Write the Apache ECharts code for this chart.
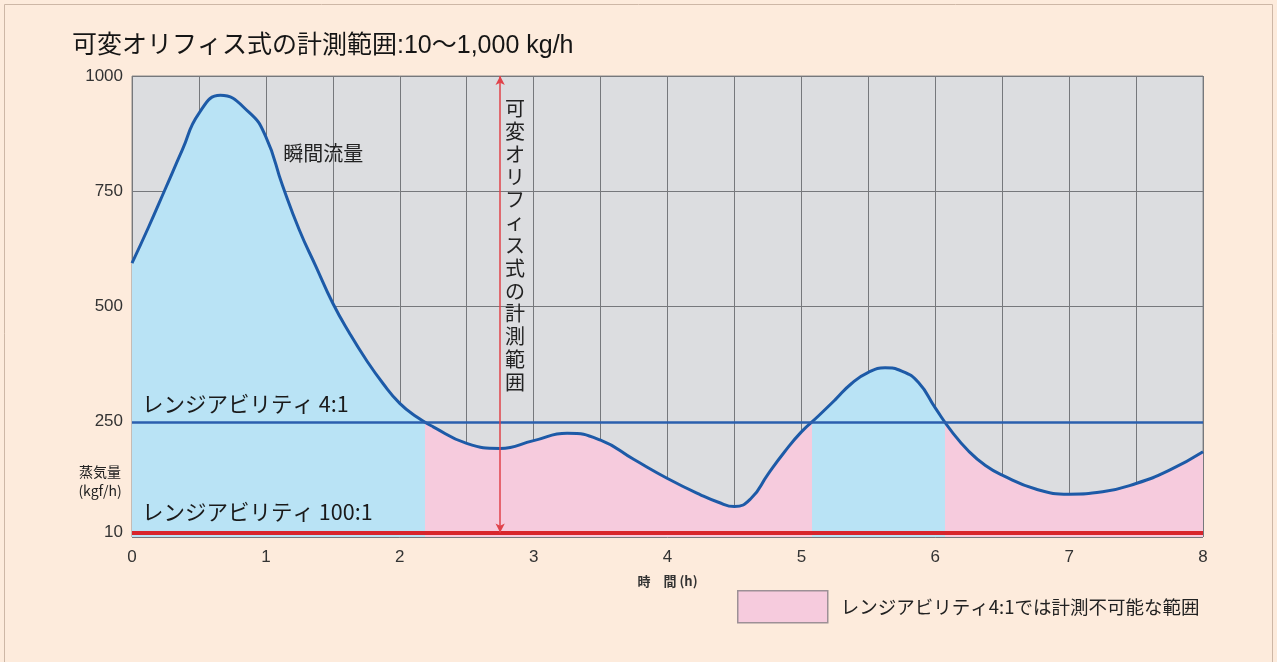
<!DOCTYPE html>
<html>
<head>
<meta charset="utf-8">
<title>可変オリフィス式の計測範囲</title>
<script src="https://cdn.jsdelivr.net/npm/echarts@6/dist/echarts.min.js"></script>
<style>
  html, body { margin: 0; padding: 0; background: #fdebdc; }
  #main { width: 1277px; height: 662px; }
</style>
</head>
<body>
<div id="main"></div>
<script>
// Elapsed time (h) and instantaneous steam flow (kg/h)
const hours = [0, 0.125, 0.25, 0.375, 0.5, 0.66, 0.875, 1.0, 1.125, 1.25, 1.375, 1.5, 1.625, 1.75, 1.875, 2.0, 2.125, 2.25, 2.5, 2.75, 3.0, 3.25, 3.5, 3.75, 4.0, 4.25, 4.375, 4.5, 4.625, 4.75, 4.875, 5.0, 5.125, 5.25, 5.375, 5.5, 5.625, 5.75, 5.875, 6.0, 6.125, 6.25, 6.375, 6.5, 6.75, 7.0, 7.25, 7.5, 7.75, 8.0];
const flow  = [594, 673, 756, 839, 919, 958, 921, 868, 762, 666, 586, 507, 442, 384, 333, 290, 261, 239, 203, 192, 209, 225, 210, 168, 127, 91, 76, 66, 84, 136, 185, 228, 262, 297, 333, 357, 367, 360, 335, 280, 228, 186, 155, 134, 104, 93, 98, 116, 145, 185];

// Axis ticks
const yTickValues = [10, 250, 500, 750, 1000];
const xTickValues = [0, 1, 2, 3, 4, 5, 6, 7, 8];

// Measurable lower limits for each rangeability
const limit100to1 = 10;
const limit4to1 = 250;

// Time spans where the flow stays above the 4:1 limit
const measurableSpans = [[0, 2.19], [5.08, 6.07]];

// Where the double arrow for the variable-orifice range is drawn
const arrowHour = 2.75;

const legendText = 'レンジアビリティ4:1では計測不可能な範囲';

const BLUE_FILL = '#b9e3f5';
const PINK_FILL = '#f6cbdd';
const CURVE = '#1d5aa7';
const JP = "'Noto Sans CJK JP', sans-serif";
const NUM = "'Liberation Sans', 'Noto Sans CJK JP', sans-serif";

const xMin = xTickValues[0], xMax = xTickValues[xTickValues.length - 1];

// Horizontal hard-stop gradient: blue where measurable, pink elsewhere
function spanGradient() {
  const stops = [];
  let pos = xMin;
  const span = xMax - xMin;
  measurableSpans.forEach(([a, b]) => {
    if (a > pos) {
      stops.push({ offset: (pos - xMin) / span, color: PINK_FILL });
      stops.push({ offset: (a - xMin) / span, color: PINK_FILL });
    }
    stops.push({ offset: (a - xMin) / span, color: BLUE_FILL });
    stops.push({ offset: (b - xMin) / span, color: BLUE_FILL });
    pos = b;
  });
  if (pos < xMax) {
    stops.push({ offset: (pos - xMin) / span, color: PINK_FILL });
    stops.push({ offset: 1, color: PINK_FILL });
  }
  return new echarts.graphic.LinearGradient(0, 0, 1, 0, stops);
}

const chart = echarts.init(document.getElementById('main'), null, { renderer: 'canvas' });

const option = {
  backgroundColor: '#fdebdc',
  animation: false,
  title: {
    text: '可変オリフィス式の計測範囲:10〜1,000 kg/h',
    left: 67,
    top: 29,
    textStyle: { fontFamily: "'Liberation Sans', 'Noto Sans CJK JP', sans-serif", fontSize: 25, fontWeight: 'normal', color: '#151515' }
  },
  grid: {
    left: 132, right: 74, top: 76, bottom: 125,
    show: true, backgroundColor: '#dcdde0', borderColor: '#8c8c8e', borderWidth: 1
  },
  legend: {
    left: 737, top: 590, padding: 0,
    itemWidth: 90, itemHeight: 32,
    selectedMode: false,
    icon: 'rect',
    data: [{ name: legendText, itemStyle: { color: PINK_FILL, borderColor: '#9d9096', borderWidth: 1.5 } }],
    textStyle: { fontFamily: JP, fontSize: 18.5, color: '#222', padding: [0, 0, 0, 8] }
  },
  xAxis: {
    type: 'value', min: xMin, max: xMax, interval: 0.5,
    name: '時　間 (h)', nameLocation: 'middle', nameGap: 38,
    nameTextStyle: { fontFamily: JP, fontSize: 13, fontWeight: 'bold', color: '#333' },
    axisLine: { show: false }, axisTick: { show: false },
    axisLabel: {
      margin: 12, fontFamily: NUM, fontSize: 17, color: '#333',
      formatter: v => (xTickValues.indexOf(v) >= 0 ? String(v) : '')
    },
    splitLine: { show: true, lineStyle: { color: '#76787c', width: 1 } }
  },
  yAxis: {
    type: 'value', min: 0, max: 1000, interval: 250,
    axisLine: { show: false }, axisTick: { show: false },
    axisLabel: {
      customValues: yTickValues, margin: 9, fontFamily: NUM, fontSize: 17, color: '#333',
      formatter: v => String(v)
    },
    splitLine: { show: true, lineStyle: { color: '#76787c', width: 1 } }
  },
  series: [
    {
      name: '瞬間流量',
      type: 'line',
      data: hours.map((h, i) => [h, flow[i]]),
      smooth: 0.5,
      showSymbol: false,
      lineStyle: { color: CURVE, width: 3 },
      areaStyle: { color: spanGradient(), opacity: 1, origin: 'start' },
      z: 3,
      markLine: {
        silent: true,
        symbol: 'none',
        label: { show: false },
        data: [
          { yAxis: limit4to1, lineStyle: { color: '#2b5fae', width: 2.5, type: 'solid' } },
          { yAxis: limit100to1, lineStyle: { color: '#d8252c', width: 4, type: 'solid' } }
        ]
      }
    },
    {
      name: 'range-arrow',
      type: 'line',
      data: [],
      z: 4,
      markLine: {
        silent: true,
        symbol: ['arrow', 'arrow'],
        symbolSize: [7, 9],
        label: { show: false },
        lineStyle: { color: '#e0424a', width: 1.5, type: 'solid' },
        data: [[{ coord: [arrowHour, limit100to1] }, { coord: [arrowHour, yTickValues[yTickValues.length - 1]] }]]
      }
    },
    {
      name: legendText,
      type: 'line',
      data: [],
      itemStyle: { color: PINK_FILL }
    }
  ]
};

chart.setOption(option);

// Text annotations placed through the axes' own scales
const px = (x, y) => chart.convertToPixel({ gridIndex: 0 }, [x, y]);
const pFlow = px(1.13, 833);
const p41 = px(0.075, 288);
const p1001 = px(0.075, 54);
const pVert = px(2.86, 954);

chart.setOption({
  graphic: [
    {
      type: 'rect', silent: true, z: -1,
      shape: { x: 4.5, y: 4.5, width: 1268, height: 660 },
      style: { fill: 'none', stroke: '#cdb7a6', lineWidth: 1 }
    },
    {
      type: 'text', x: pFlow[0], y: pFlow[1], z: 10,
      style: { text: '瞬間流量', font: "20px 'Noto Sans CJK JP'", fill: '#222', verticalAlign: 'middle' }
    },
    {
      type: 'text', x: p41[0], y: p41[1], z: 10,
      style: { text: 'レンジアビリティ 4:1', font: "21.5px 'Noto Sans CJK JP'", fill: '#1a1a1a', verticalAlign: 'middle' }
    },
    {
      type: 'text', x: p1001[0], y: p1001[1], z: 10,
      style: { text: 'レンジアビリティ 100:1', font: "21.5px 'Noto Sans CJK JP'", fill: '#1a1a1a', verticalAlign: 'middle' }
    },
    {
      type: 'text', x: pVert[0], y: pVert[1], z: 10,
      style: {
        text: '可変オリフィス式の計測範囲'.split('').join('\n'),
        font: "20px 'Noto Sans CJK JP'", lineHeight: 22.8, fill: '#222',
        align: 'center', verticalAlign: 'top'
      }
    },
    {
      type: 'text', x: 100, y: 462, z: 10,
      style: {
        text: '蒸気量\n(kgf/h)', font: "14px 'Noto Sans CJK JP'", lineHeight: 19,
        fill: '#222', align: 'center', verticalAlign: 'top'
      }
    }
  ]
});
</script>
</body>
</html>
